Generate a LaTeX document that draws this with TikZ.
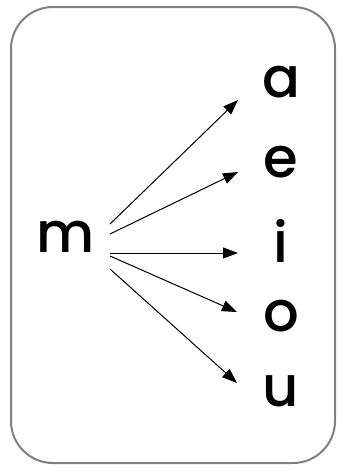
\documentclass[tikz,border=0pt]{standalone}
\usepackage{fontspec}
\setmainfont{Poppins}[UprightFont=* Medium]
\usetikzlibrary{arrows.meta}
\begin{document}
\begin{tikzpicture}[x=1pt,y=1pt,
  letter/.style={inner sep=0pt, font=\fontsize{56}{56}\selectfont, anchor=center},
  link/.style={line width=1pt, -{Triangle[length=15pt,width=11pt]}}]
\useasboundingbox (0,0) rectangle (338,-471);
\draw[line width=2pt, draw=black!50, rounded corners=42pt] (11,-7) rectangle (335,-463);
\node[letter] (m) at (66,-237) {m};
\node[letter] (a) at (281,-82) {a};
\node[letter] (e) at (281,-162) {e};
\node[letter] (i) at (281,-241) {i};
\node[letter] (o) at (281,-316) {o};
\node[letter] (u) at (281,-391) {u};
\coordinate (sa) at (110,-224);
\coordinate (se) at (110,-234);
\coordinate (si) at (110,-253);
\coordinate (so) at (110,-256);
\coordinate (su) at (110,-269);
\coordinate (ta) at (238,-100);
\coordinate (te) at (238,-172);
\coordinate (ti) at (238,-253);
\coordinate (to) at (237,-312);
\coordinate (tu) at (237,-383);
\draw[link] (sa) -- (ta);
\draw[link] (se) -- (te);
\draw[link] (si) -- (ti);
\draw[link] (so) -- (to);
\draw[link] (su) -- (tu);
\end{tikzpicture}
\end{document}
